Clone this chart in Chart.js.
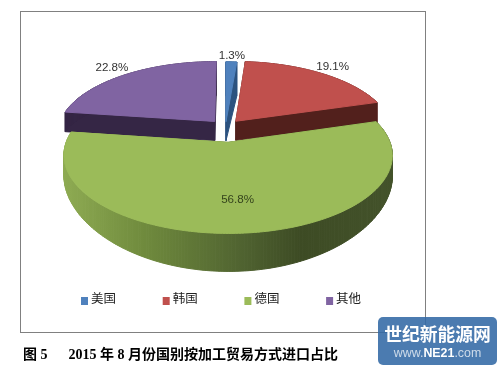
<!DOCTYPE html>
<html lang="zh">
<head>
<meta charset="utf-8">
<script src="https://cdn.jsdelivr.net/npm/chart.js@4"></script>
<style>
html,body{margin:0;padding:0;background:#fff;width:502px;height:371px;overflow:hidden}
#frame{position:absolute;left:20px;top:11px;width:404px;height:320px;border:1px solid #808080}
canvas{position:absolute;left:0;top:0}
#cap{position:absolute;left:23px;top:343px;font:bold 14px "Liberation Serif","Noto Sans CJK SC",serif;color:#000;white-space:pre}
#wm{position:absolute;left:378px;top:317px;width:119px;height:48px;border-radius:5px;background:rgba(50,105,165,.88);color:#fff;text-align:center;font-family:"Noto Sans CJK SC",sans-serif}
#wm .a{position:absolute;left:0;right:0;top:4px;font-size:17.8px;line-height:24px;font-weight:700;white-space:nowrap}
#wm .b{position:absolute;left:0;right:0;top:28px;font-size:12.4px;line-height:16px;color:#cfdcea;white-space:nowrap;font-family:"Liberation Sans",sans-serif}
#wm .b b{color:#fff}
</style>
</head>
<body>
<div id="frame"></div>
<canvas id="c" width="502" height="371"></canvas>
<div id="cap">图 5      2015 年 8 月份国别按加工贸易方式进口占比</div>
<div id="wm"><div class="a">世纪新能源网</div><div class="b">www.<b>NE21</b>.com</div></div>
<script>
const categories = ["美国", "韩国", "德国", "其他"];
const shares = [1.3, 19.1, 56.8, 22.8];
const labels = ["1.3%", "19.1%", "56.8%", "22.8%"];
const colors = ["#4F81BD", "#C0504D", "#9BBB59", "#8064A2"];
const wallColors = ["#2c527f", "#52201c", "#6b8339", "#352645"];

const view = {cx: 225.5, cy: 127, sx: 156.5, sy: 71, g: 0.16, d0: 19, d1: 13};
const labelR = [1.12, 1.15, 0.67, 1.17];
const labelOrder = [3, 0, 1, 2];
const labelColors = ["#333", "#333", "#34431c", "#333"];
const legendView = {x: 81, pitch: 81.7, y: 297, box: 7, gap: 3};

function project(u, v) {
  const p = 1 / (1 - view.g * v);
  return [view.cx + view.sx * u * p, view.cy + view.sy * v * p];
}
function depth(v) { return view.d0 + view.d1 * v * v; }

const pie3d = {
  id: "pie3d",
  beforeDatasetDraw() { return false; },
  afterDatasetsDraw(chart) {
    const ctx = chart.ctx;
    const arcs = chart.getDatasetMeta(0).data;
    const info = arcs.map(a => {
      const R = a.outerRadius, mid = (a.startAngle + a.endAngle) / 2;
      const off = (a.options.offset || 0) / 4 / R;
      return {a, mid, ox: Math.cos(mid) * off, oy: Math.sin(mid) * off};
    });
    function rim(i) {
      const {a, ox, oy} = info[i];
      const n = Math.max(4, Math.ceil((a.endAngle - a.startAngle) * 60)), pts = [];
      for (let k = 0; k <= n; k++) {
        const t = a.startAngle + (a.endAngle - a.startAngle) * k / n;
        pts.push([ox + Math.cos(t), oy + Math.sin(t)]);
      }
      return pts;
    }
    function path(pts) {
      ctx.beginPath();
      pts.forEach((q, k) => { const s = project(q[0], q[1]); k ? ctx.lineTo(s[0], s[1]) : ctx.moveTo(s[0], s[1]); });
      ctx.closePath();
    }
    function drawSlice(i, isFront) {
      const {ox, oy} = info[i];
      const outline = [[ox, oy]].concat(rim(i));
      let wall = wallColors[i];
      if (isFront) {
        wall = ctx.createLinearGradient(63, 0, 392, 0);
        wall.addColorStop(0, "#8eab52");
        wall.addColorStop(0.25, "#6f8a3d");
        wall.addColorStop(0.55, "#4f6230");
        wall.addColorStop(0.72, "#3d4b24");
        wall.addColorStop(1, "#43522a");
      }
      ctx.fillStyle = wall; ctx.strokeStyle = wall; ctx.lineWidth = 1;
      for (let k = 0; k < outline.length; k++) {
        const A = outline[k], B = outline[(k + 1) % outline.length];
        const a = project(A[0], A[1]), b = project(B[0], B[1]);
        ctx.beginPath();
        ctx.moveTo(a[0], a[1]); ctx.lineTo(b[0], b[1]);
        ctx.lineTo(b[0], b[1] + depth(B[1])); ctx.lineTo(a[0], a[1] + depth(A[1]));
        ctx.closePath(); ctx.fill(); ctx.stroke();
      }
      path(outline);
      ctx.fillStyle = colors[i];
      ctx.strokeStyle = colors[i];
      ctx.fill(); ctx.stroke();
    }
    [3, 0, 1].forEach(i => drawSlice(i, false));
    drawSlice(2, true);

    ctx.font = '11.6px "Liberation Sans", sans-serif';
    ctx.textAlign = "center"; ctx.textBaseline = "middle";
    labelOrder.forEach(i => {
      const {mid, ox, oy} = info[i];
      const s = project(ox + Math.cos(mid) * labelR[i], oy + Math.sin(mid) * labelR[i]);
      ctx.fillStyle = labelColors[i];
      ctx.fillText(labels[i], s[0], s[1]);
    });

    ctx.font = '12.5px "Noto Sans CJK SC", sans-serif';
    ctx.textAlign = "left";
    categories.forEach((name, i) => {
      const x = legendView.x + legendView.pitch * i;
      ctx.fillStyle = colors[i];
      ctx.fillRect(x, legendView.y, legendView.box, legendView.box + 1);
      ctx.fillStyle = "#222";
      ctx.fillText(name, x + legendView.box + legendView.gap, legendView.y + 1);
    });
  }
};

new Chart(document.getElementById("c"), {
  type: "pie",
  data: {
    labels: categories,
    datasets: [{
      data: shares,
      backgroundColor: colors,
      borderWidth: 0,
      offset: [30, 42, 83, 42],
      hoverOffset: 0
    }]
  },
  options: {
    responsive: false,
    animation: false,
    layout: {padding: {left: 0, right: 70, top: 0, bottom: 90}},
    events: [],
    plugins: {
      tooltip: {enabled: false},
      legend: {display: false}
    }
  },
  plugins: [pie3d]
});
</script>
</body>
</html>
